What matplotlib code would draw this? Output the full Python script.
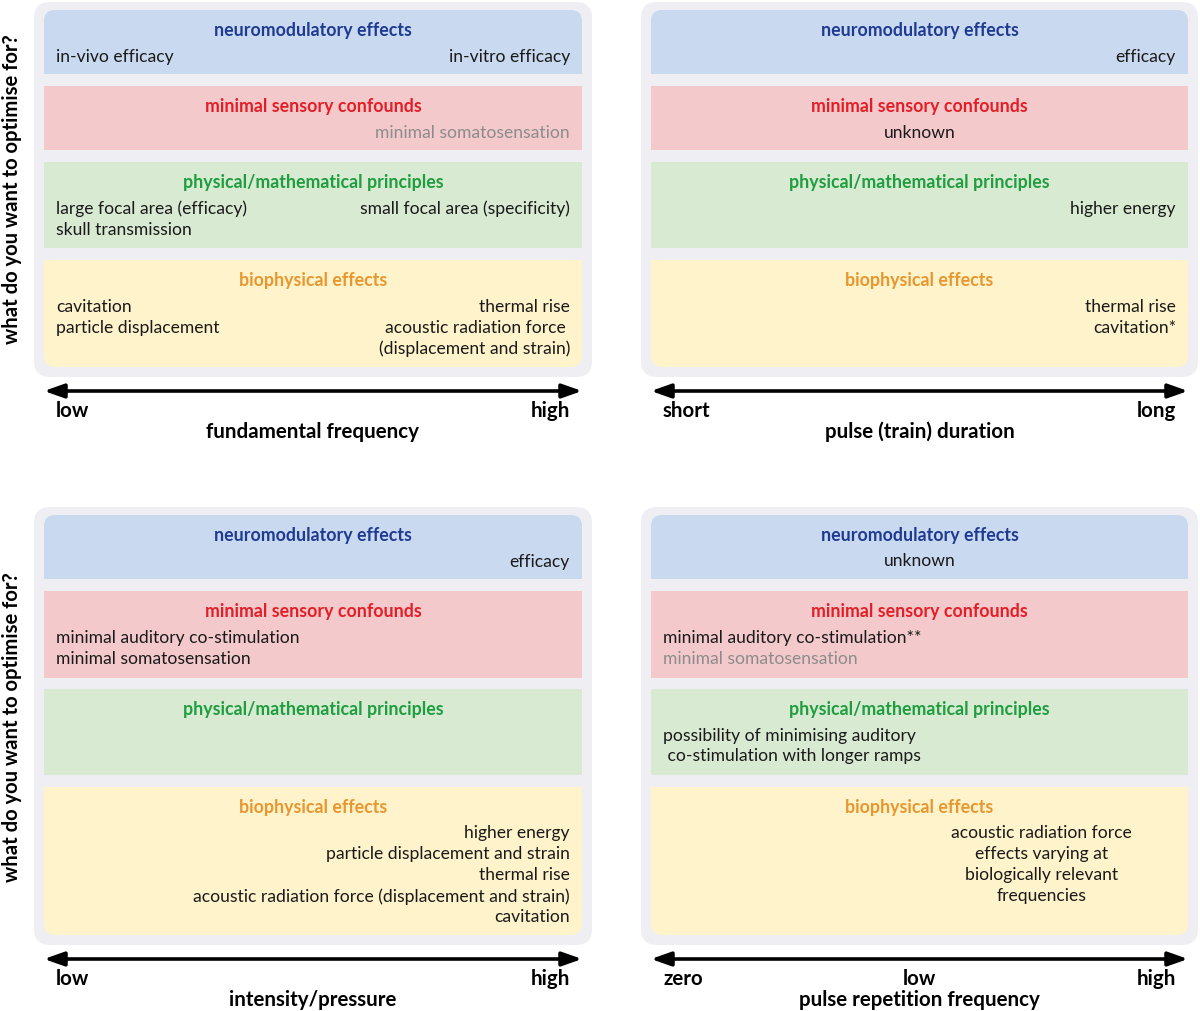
import matplotlib
matplotlib.use("Agg")
import matplotlib.pyplot as plt
from matplotlib.path import Path
from matplotlib.patches import PathPatch, FancyArrowPatch

plt.rcParams['font.family'] = ['Lato', 'DejaVu Sans']

# ---------------- data ----------------
band_titles = ["neuromodulatory effects", "minimal sensory confounds",
               "physical/mathematical principles", "biophysical effects"]
band_fill = ["#C9D9EF", "#F4C9CB", "#D9EAD3", "#FEF3CA"]
title_color = ["#1F3A93", "#E41E26", "#1E9E3E", "#E8962E"]
gray_text = "#8C8C8C"
ylabel_text = "what do you want to optimise for?"

axis_titles = ["fundamental frequency", "pulse (train) duration",
               "intensity/pressure", "pulse repetition frequency"]
axis_ends = [
    [("left", "low"), ("right", "high")],
    [("left", "short"), ("right", "long")],
    [("left", "low"), ("right", "high")],
    [("left", "zero"), ("center", "low"), ("right", "high")],
]

# items: (alignment, line_index, text, is_gray)
panel1 = [
    [("left", 0, "in-vivo efficacy", False), ("right", 0, "in-vitro efficacy", False)],
    [("right", 0, "minimal somatosensation", True)],
    [("left", 0, "large focal area (efficacy)", False), ("left", 1, "skull transmission", False),
     ("right", 0, "small focal area (specificity)", False)],
    [("left", 0, "cavitation", False), ("left", 1, "particle displacement", False),
     ("right", 0, "thermal rise", False), ("right", 1, "acoustic radiation force ", False),
     ("right", 2, "(displacement and strain)", False)],
]
panel2 = [
    [("right", 0, "efficacy", False)],
    [("center", 0, "unknown", False)],
    [("right", 0, "higher energy", False)],
    [("right", 0, "thermal rise", False), ("right", 1, "cavitation*", False)],
]
panel3 = [
    [("right", 0, "efficacy", False)],
    [("left", 0, "minimal auditory co-stimulation", False),
     ("left", 1, "minimal somatosensation", False)],
    [],
    [("right", 0, "higher energy", False), ("right", 1, "particle displacement and strain", False),
     ("right", 2, "thermal rise", False),
     ("right", 3, "acoustic radiation force (displacement and strain)", False),
     ("right", 4, "cavitation", False)],
]
panel4 = [
    [("center", 0, "unknown", False)],
    [("left", 0, "minimal auditory co-stimulation**", False),
     ("left", 1, "minimal somatosensation", True)],
    [("left", 0, "possibility of minimising auditory", False),
     ("left", 1, " co-stimulation with longer ramps", False)],
    [("offcenter", 0, "acoustic radiation force", False), ("offcenter", 1, "effects varying at", False),
     ("offcenter", 2, "biologically relevant", False), ("offcenter", 3, "frequencies", False)],
]
panels = [panel1, panel2, panel3, panel4]

# ---------------- layout ----------------
W, H = 1200, 1012
fig = plt.figure(figsize=(W / 100, H / 100), dpi=100)
ax = fig.add_axes([0, 0, 1, 1])
ax.set_xlim(0, W)
ax.set_ylim(H, 0)
ax.axis("off")

cols = [(34, 592), (641, 1198)]
rows = [
    dict(outer=(3, 378), bands=[(11, 75), (87, 151), (163, 249), (261, 368)],
         arrow=392, ends=411, title=432, ylab=189),
    dict(outer=(508, 946), bands=[(516, 580), (592, 679), (690, 776), (788, 936)],
         arrow=960, ends=979, title=1000, ylab=727),
]


def rpath(x0, y0, x1, y1, tl, tr, br, bl):
    # y grows downward in data coords (inverted axis)
    verts = [(x0 + tl, y0), (x1 - tr, y0), (x1, y0), (x1, y0 + tr),
             (x1, y1 - br), (x1, y1), (x1 - br, y1),
             (x0 + bl, y1), (x0, y1), (x0, y1 - bl),
             (x0, y0 + tl), (x0, y0), (x0 + tl, y0), (x0 + tl, y0)]
    codes = [Path.MOVETO, Path.LINETO, Path.CURVE3, Path.CURVE3,
             Path.LINETO, Path.CURVE3, Path.CURVE3,
             Path.LINETO, Path.CURVE3, Path.CURVE3,
             Path.LINETO, Path.CURVE3, Path.CURVE3, Path.CLOSEPOLY]
    return Path(verts, codes)


body_fs = 12.6
title_fs = 12.8
axis_fs = 14.8
ylab_fs = 14.6
line_gap = 21

for p in range(4):
    r = rows[p // 2]
    cx0, cx1 = cols[p % 2]
    oy0, oy1 = r["outer"]
    ax.add_patch(PathPatch(rpath(cx0, oy0, cx1, oy1, 16, 16, 16, 16),
                           facecolor="#EFEFF3", edgecolor="none", zorder=1))
    bx0, bx1 = cx0 + 10, cx1 - 10
    for b, (by0, by1) in enumerate(r["bands"]):
        rt = 11 if b == 0 else 0
        rb = 11 if b == 3 else 0
        ax.add_patch(PathPatch(rpath(bx0, by0, bx1, by1, rt, rt, rb, rb),
                               facecolor=band_fill[b], edgecolor="none", zorder=2))
        mid = (bx0 + bx1) / 2
        ax.text(mid, by0 + 19.5, band_titles[b], ha="center", va="center",
                fontsize=title_fs, fontweight="bold", color=title_color[b], zorder=3)
        for align, li, txt, g in panels[p][b]:
            y = by0 + 45.5 + li * line_gap
            if align == "left":
                x, ha = bx0 + 12, "left"
            elif align == "right":
                x, ha = bx1 - 12, "right"
            elif align == "center":
                x, ha = mid, "center"
            else:
                x, ha = bx0 + 0.727 * (bx1 - bx0), "center"
            ax.text(x, y, txt, ha=ha, va="center", fontsize=body_fs,
                    color=gray_text if g else "#1A1A1A", zorder=3)
    # axis arrow
    ax.add_patch(FancyArrowPatch((bx0, r["arrow"]), (bx1, r["arrow"]),
                                 arrowstyle="<|-|>,head_length=0.85,head_width=0.3",
                                 mutation_scale=14, lw=2.6, color="black",
                                 shrinkA=0, shrinkB=0, zorder=3))
    for align, txt in axis_ends[p]:
        if align == "left":
            x, ha = bx0 + 12, "left"
        elif align == "right":
            x, ha = bx1 - 12, "right"
        else:
            x, ha = (bx0 + bx1) / 2, "center"
        ax.text(x, r["ends"], txt, ha=ha, va="center", fontsize=axis_fs,
                fontweight="bold", color="black")
    ax.text((bx0 + bx1) / 2, r["title"], axis_titles[p], ha="center", va="center",
            fontsize=axis_fs, fontweight="bold", color="black")

for r in rows:
    ax.text(12, r["ylab"], ylabel_text, rotation=90, ha="center", va="center",
            fontsize=ylab_fs, fontweight="bold", color="black")

fig.savefig("out.png", dpi=100, facecolor="white")
